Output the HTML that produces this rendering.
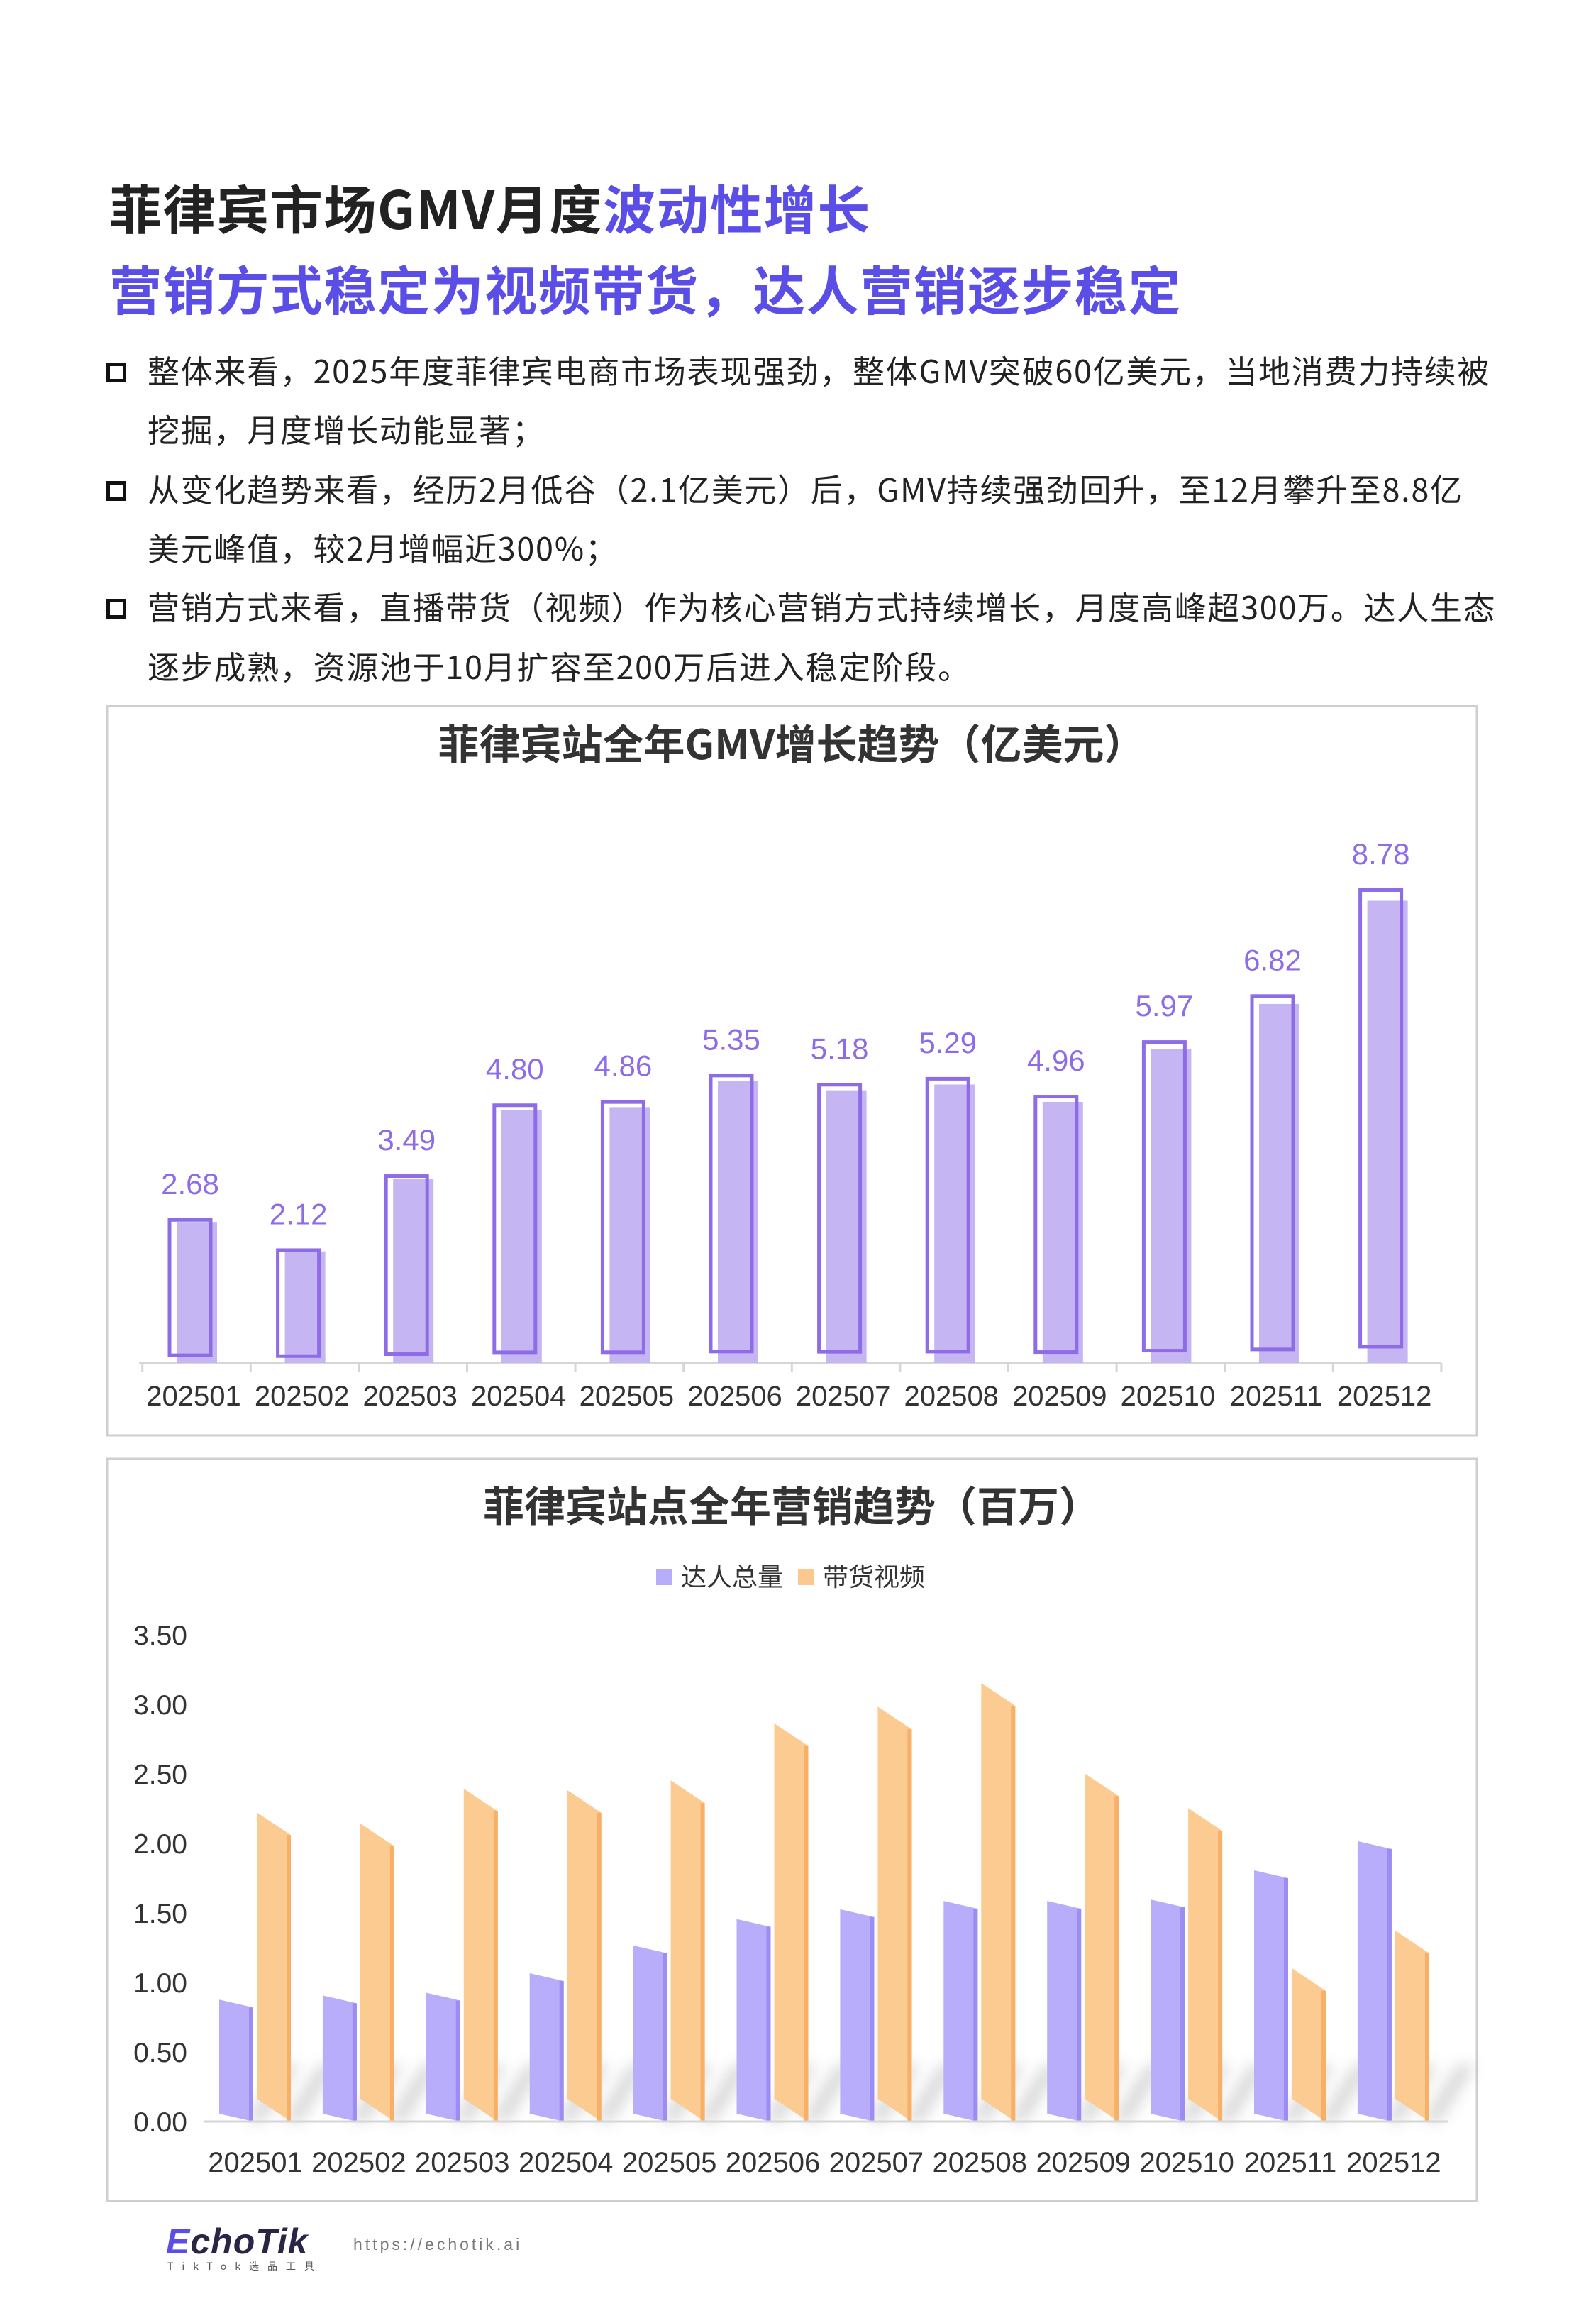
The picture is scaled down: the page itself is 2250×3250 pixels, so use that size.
<!DOCTYPE html>
<html><head><meta charset="utf-8">
<style>
html,body{margin:0;padding:0;background:#fff;}
body{width:2250px;height:3250px;position:relative;overflow:hidden;font-family:"Liberation Sans","Noto Sans CJK SC",sans-serif;}
.t{position:absolute;white-space:nowrap;font-family:"Noto Sans CJK SC","Liberation Sans",sans-serif;}
.h{font-size:74px;font-weight:bold;color:#222;left:154px;line-height:1;letter-spacing:1.6px;}
.p{color:#5b4ee6;}
.b{font-size:45px;color:#222;left:208px;line-height:1;letter-spacing:1.7px;}
.box{position:absolute;left:150px;width:28px;height:28px;border:5px solid #111;box-sizing:border-box;}
</style></head><body>
<div class="t h" style="top:255px">菲律宾市场GMV月度<span class="p">波动性增长</span></div>
<div class="t h p" style="top:369px">营销方式稳定为视频带货，达人营销逐步稳定</div>

<div class="box" style="top:511px"></div>
<div class="t b" style="top:498px">整体来看，2025年度菲律宾电商市场表现强劲，整体GMV突破60亿美元，当地消费力持续被</div>
<div class="t b" style="top:581px">挖掘，月度增长动能显著；</div>
<div class="box" style="top:678px"></div>
<div class="t b" style="top:665px">从变化趋势来看，经历2月低谷（2.1亿美元）后，GMV持续强劲回升，至12月攀升至8.8亿</div>
<div class="t b" style="top:748px">美元峰值，较2月增幅近300%；</div>
<div class="box" style="top:844px"></div>
<div class="t b" style="top:831px">营销方式来看，直播带货（视频）作为核心营销方式持续增长，月度高峰超300万。达人生态</div>
<div class="t b" style="top:915px">逐步成熟，资源池于10月扩容至200万后进入稳定阶段。</div>

<svg id="svg" width="2250" height="3250" style="position:absolute;left:0;top:0" xmlns="http://www.w3.org/2000/svg">
<defs><filter id="blur" x="-50%" y="-50%" width="200%" height="200%"><feGaussianBlur stdDeviation="10"/></filter></defs>
<rect x="151" y="995" width="1931" height="1028" fill="none" stroke="#cfcfcf" stroke-width="3"/>
<text x="1116" y="1070" text-anchor="middle" font-size="58" font-weight="bold" fill="#333" font-family="Noto Sans CJK SC, sans-serif">菲律宾站全年GMV增长趋势（亿美元）</text>
<g id="c1"></g>
<rect x="151" y="2056" width="1931" height="1046" fill="none" stroke="#cfcfcf" stroke-width="3"/>
<text x="1116" y="2144" text-anchor="middle" font-size="58" font-weight="bold" fill="#333" font-family="Noto Sans CJK SC, sans-serif">菲律宾站点全年营销趋势（百万）</text>
<g>
<rect x="925" y="2211" width="23" height="23" fill="#b7adfb"/>
<text x="960" y="2235" font-size="36" fill="#333" font-family="Noto Sans CJK SC, sans-serif">达人总量</text>
<rect x="1125" y="2211" width="23" height="23" fill="#fcc88e"/>
<text x="1160" y="2235" font-size="36" fill="#333" font-family="Noto Sans CJK SC, sans-serif">带货视频</text>
</g>
<g id="c2"></g>
</svg>

<div class="t" style="left:234px;top:3130px;font-family:'Liberation Sans',sans-serif;font-size:50px;font-weight:bold;font-style:italic;color:#2a2545;letter-spacing:1px"><span style="color:#5b4ee8">E</span>choTik</div>
<div class="t" style="left:236px;top:3184px;font-size:14px;color:#555;letter-spacing:12px">TikTok选品工具</div>
<div class="t" style="left:498px;top:3150px;font-family:'Liberation Sans',sans-serif;font-size:23px;color:#777;letter-spacing:4px">https://echotik.ai</div>

<script>
const months = ["202501","202502","202503","202504","202505","202506","202507","202508","202509","202510","202511","202512"];
const gmv = [2.68,2.12,3.49,4.80,4.86,5.35,5.18,5.29,4.96,5.97,6.82,8.78];
const creators = [0.82,0.85,0.87,1.01,1.21,1.40,1.47,1.53,1.53,1.54,1.75,1.96];
const videos = [2.06,1.98,2.23,2.22,2.29,2.70,2.82,2.99,2.34,2.09,0.94,1.21];
const yTicks2 = ["0.00","0.50","1.00","1.50","2.00","2.50","3.00","3.50"];

const NS="http://www.w3.org/2000/svg";
function mk(tag,attrs,parent,txt){const e=document.createElementNS(NS,tag);for(const k in attrs)e.setAttribute(k,attrs[k]);if(txt!==undefined)e.textContent=txt;parent.appendChild(e);return e;}

// Chart 1
const c1=document.getElementById('c1');
const ax1=1921, k1=74.2, band1=152.6, x1c=i=>277+i*band1, y1=v=>ax1-v*k1;
let axl=mk('line',{x1:196,y1:ax1,x2:2032,y2:ax1,stroke:'#d6d6d6','stroke-width':3},c1);


for(let i=0;i<=12;i++){
  const tx=x1c(0)-band1/2+i*band1;
  const t=mk('line',{x1:tx,y1:ax1,x2:tx,y2:ax1+12,stroke:'#d6d6d6','stroke-width':3},c1);
  
  
}
gmv.forEach((v,i)=>{
  const c=x1c(i), top=y1(v);
  const f=mk('rect',{x:c-28,y:top,width:57,height:ax1-top,fill:'#c5b5f2'},c1);
  
  
  const ot=top-2*v, ob=ax1-2*v-3;
  const o=mk('rect',{x:c-38,y:ot+2.5,width:58,height:ob-ot-5,fill:'none',stroke:'#8e6ce8','stroke-width':5},c1);
  
  
  const lb=mk('text',{x:c-9,y:ot-34,'text-anchor':'middle','font-size':42,fill:'#8e6ce8'},c1,v.toFixed(2));
  
  
  const xl=mk('text',{x:c-4,y:ax1+60,'text-anchor':'middle','font-size':40,fill:'#333'},c1,months[i]);
  
  
});

// Chart 2
const c2=document.getElementById('c2');
const ax2=2990, k2=196, band2=145.9, x2c=i=>360+i*band2, y2=v=>ax2-v*k2;
yTicks2.forEach((t,i)=>{
  const e=mk('text',{x:264,y:y2(parseFloat(t))+14,'text-anchor':'end','font-size':39,fill:'#333'},c2,t);
  
  
});
const sh=mk('g',{filter:'url(#blur)',opacity:0.25},c2);


function bar(xl,w,v,skew,front,side,name){
  const yt=y2(v);
  const s=mk('polygon',{points:`${xl+w-10},${ax2} ${xl+w+40},${ax2-80} ${xl+w+65},${ax2-80} ${xl+w+15},${ax2}`,fill:'#666'},sh);
  
  
  const p=mk('polygon',{points:`${xl},${yt-skew} ${xl+w},${yt} ${xl+w},${ax2} ${xl},${ax2-skew}`,fill:front},c2);
  
  
  const sd=mk('rect',{x:xl+w-6,y:yt,width:6,height:ax2-yt,fill:side},c2);
  
  
}
months.forEach((m,i)=>{
  const c=x2c(i);
  bar(c-51,48,creators[i],11,'#b7adfb','#9c8cf4','creators-bar-'+m);
  bar(c+2,48,videos[i],32,'#fccb91','#f8b066','videos-bar-'+m);
  const xl=mk('text',{x:c,y:3061,'text-anchor':'middle','font-size':40,fill:'#333'},c2,m);
  
  
});
const ax=mk('line',{x1:287,y1:ax2,x2:2042,y2:ax2,stroke:'#d6d6d6','stroke-width':3},c2);


</script>
</body></html>
